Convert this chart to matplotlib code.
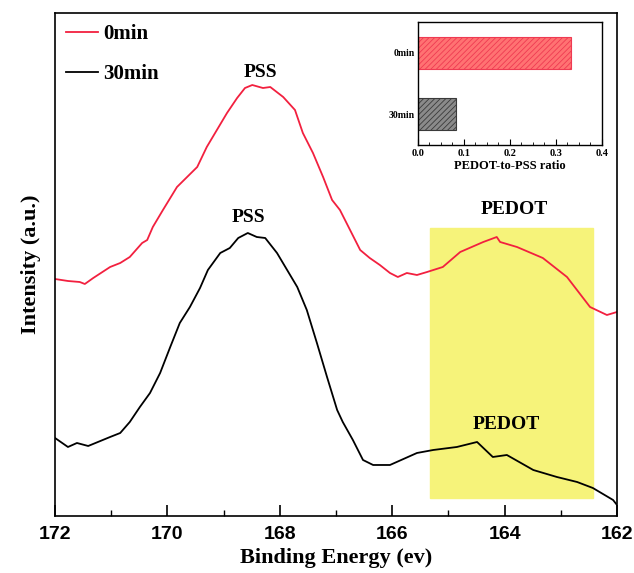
"""
XPS S2p spectra of PEDOT:PSS before/after treatment, with PEDOT-to-PSS ratio inset
"""
import numpy as np
import matplotlib
matplotlib.use("Agg")
import matplotlib.pyplot as plt
from matplotlib.ticker import MultipleLocator

plt.rcParams['hatch.linewidth'] = 0.6

# spectra (binding energy in eV, intensity in a.u.)
energy_0min = [172.00, 171.77, 171.56, 171.47, 171.32, 171.02, 170.84, 170.67, 170.45,
               170.36, 170.26, 170.08, 169.83, 169.65, 169.47, 169.30, 169.12, 168.94,
               168.76, 168.62, 168.49, 168.30, 168.17, 167.94, 167.73, 167.59, 167.41,
               167.23, 167.07, 166.93, 166.75, 166.57, 166.40, 166.22, 166.04, 165.90,
               165.74, 165.56, 165.38, 165.10, 164.79, 164.38, 164.14, 164.08, 163.78,
               163.32, 162.89, 162.48, 162.18, 162.00]
intensity_0min = [47.4, 47.0, 46.8, 46.4, 47.6, 49.8, 50.6, 51.8, 54.6,
                  55.2, 57.8, 61.2, 65.8, 67.8, 69.8, 73.8, 77.2, 80.6,
                  83.6, 85.6, 86.2, 85.6, 85.8, 83.8, 81.2, 76.6, 72.6,
                  67.8, 63.2, 61.2, 57.2, 53.2, 51.6, 50.2, 48.6, 47.8,
                  48.6, 48.2, 48.8, 49.8, 52.8, 54.8, 55.8, 54.8, 53.8,
                  51.6, 47.8, 41.8, 40.2, 40.8]

energy_30min = [172.00, 171.77, 171.61, 171.41, 171.02, 170.84, 170.67, 170.49, 170.31,
                170.13, 169.95, 169.78, 169.60, 169.42, 169.28, 169.06, 168.89, 168.74,
                168.57, 168.41, 168.26, 168.05, 167.87, 167.69, 167.52, 167.34, 167.16,
                166.98, 166.88, 166.70, 166.52, 166.34, 166.22, 166.04, 165.56, 165.27,
                164.85, 164.49, 164.21, 163.96, 163.49, 163.07, 162.71, 162.43, 162.07,
                162.00]
intensity_30min = [15.6, 13.8, 14.6, 14.0, 15.8, 16.6, 18.8, 21.8, 24.6,
                   28.6, 33.8, 38.6, 41.8, 45.6, 49.2, 52.6, 53.6, 55.6,
                   56.6, 55.8, 55.6, 52.6, 49.2, 45.8, 41.2, 34.6, 27.8,
                   21.2, 18.8, 15.2, 11.2, 10.2, 10.2, 10.2, 12.6, 13.2,
                   13.8, 14.8, 11.8, 12.2, 9.2, 7.8, 6.8, 5.6, 3.2,
                   2.2]

# inset
samples = ['0min', '30min']
ratios = [0.333, 0.083]

red = '#f2203f'
serif = 'Liberation Serif'

fig = plt.figure(figsize=(6.34, 5.73), dpi=100)
ax = fig.add_axes([0.0868, 0.0995, 0.8864, 0.8778])

ax.axvspan(165.33, 162.43, ymin=0.036, ymax=0.573, color='#f6f37a', zorder=0)
ax.plot(energy_0min, intensity_0min, color=red, lw=1.3, label='0min')
ax.plot(energy_30min, intensity_30min, color='black', lw=1.3, label='30min')

ax.set_xlim(172, 162)
ax.set_ylim(0, 100.6)
ax.set_yticks([])
ax.xaxis.set_major_locator(MultipleLocator(2))
ax.xaxis.set_minor_locator(MultipleLocator(1))
ax.tick_params(axis='x', which='major', direction='in', length=8, width=1.2, pad=7)
ax.tick_params(axis='x', which='minor', direction='in', length=4, width=1.0)
for lab in ax.get_xticklabels():
    lab.set_fontfamily('Liberation Sans')
    lab.set_fontweight('bold')
    lab.set_fontsize(14)
for sp in ax.spines.values():
    sp.set_linewidth(1.2)

ax.set_xlabel('Binding Energy (ev)', fontfamily=serif, fontweight='bold', fontsize=16, labelpad=4)
ax.set_ylabel('Intensity (a.u.)', fontfamily=serif, fontweight='bold', fontsize=16, labelpad=10)

lab_kw = dict(fontfamily=serif, fontweight='bold', fontsize=14, ha='center', va='center')
ax.text(168.35, 88.8, 'PSS', **lab_kw)
ax.text(168.56, 59.6, 'PSS', **lab_kw)
ax.text(163.83, 61.2, 'PEDOT', **lab_kw)
ax.text(163.97, 18.2, 'PEDOT', **lab_kw)

ax.legend(loc='upper left', bbox_to_anchor=(0.0, 1.0), frameon=False,
          prop={'family': serif, 'weight': 'bold', 'size': 15},
          handlelength=1.5, handletextpad=0.25, labelspacing=0.95,
          borderaxespad=0.15)

# inset bar chart
ins = fig.add_axes([0.659, 0.747, 0.2905, 0.2146])
ypos = [1, 0]
ins.barh(ypos[0], ratios[0], height=0.52, color='#ff7272', edgecolor='#ef3a52',
         hatch='//////', linewidth=0.8)
ins.barh(ypos[1], ratios[1], height=0.52, color='#8a8a8a', edgecolor='#3a3a3a',
         hatch='//////', linewidth=0.8)
ins.set_xlim(0, 0.4)
ins.set_ylim(-0.5, 1.5)
ins.set_yticks(ypos)
ins.set_yticklabels(samples, fontfamily=serif, fontweight='bold', fontsize=7)
ins.xaxis.set_major_locator(MultipleLocator(0.1))
ins.xaxis.set_minor_locator(MultipleLocator(0.025))
ins.tick_params(axis='x', which='major', direction='in', length=4, width=0.8, pad=3)
ins.tick_params(axis='x', which='minor', direction='in', length=2, width=0.6)
ins.tick_params(axis='y', length=0, pad=2)
for lab in ins.get_xticklabels():
    lab.set_fontfamily(serif)
    lab.set_fontweight('bold')
    lab.set_fontsize(7.5)
ins.set_xlabel('PEDOT-to-PSS ratio', fontfamily=serif, fontweight='bold', fontsize=9, labelpad=1)
for sp in ins.spines.values():
    sp.set_linewidth(1.0)

fig.savefig('out.png', dpi=100)
